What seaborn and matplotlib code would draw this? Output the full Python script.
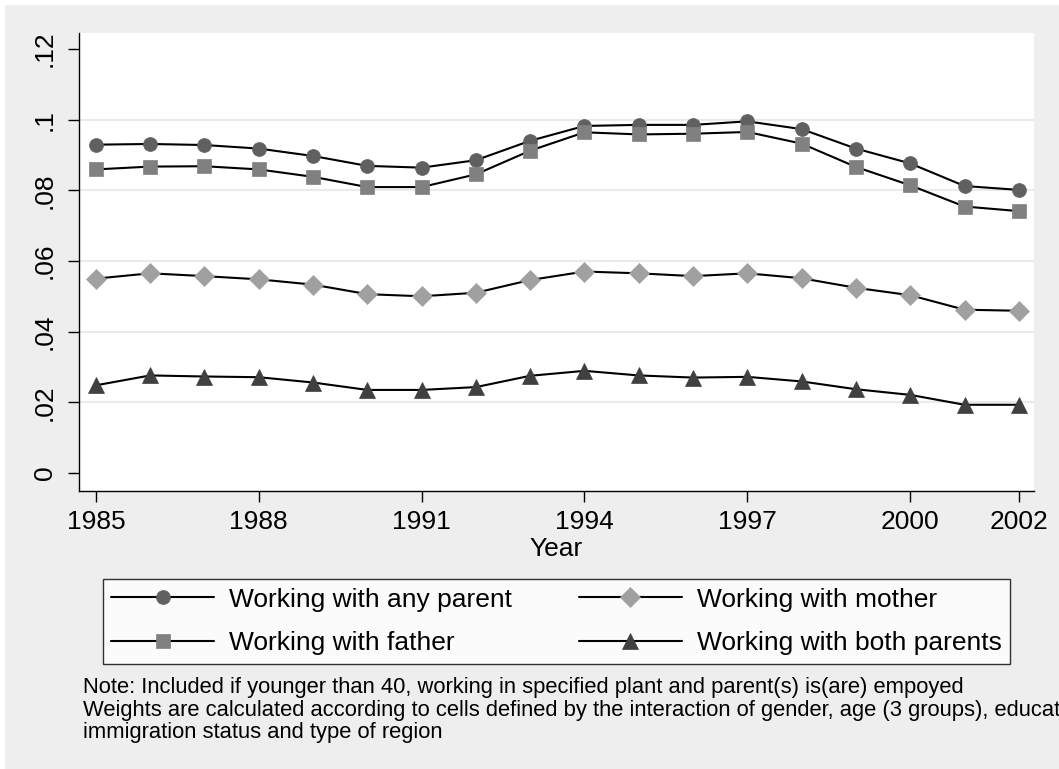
import numpy as np
import pandas as pd
import matplotlib
matplotlib.use("Agg")
import matplotlib.pyplot as plt
from matplotlib.patches import Rectangle
import seaborn as sns

years = list(range(1985, 2003))
any_parent = [0.0929, 0.0931, 0.0928, 0.0918, 0.0897, 0.0869, 0.0864, 0.0885, 0.0940,
              0.0982, 0.0985, 0.0985, 0.0995, 0.0973, 0.0918, 0.0876, 0.0812, 0.0801]
father = [0.0859, 0.0867, 0.0868, 0.0859, 0.0838, 0.0809, 0.0809, 0.0845, 0.0912,
          0.0964, 0.0958, 0.0960, 0.0965, 0.0932, 0.0866, 0.0814, 0.0754, 0.0741]
mother = [0.0550, 0.0565, 0.0557, 0.0548, 0.0533, 0.0506, 0.0500, 0.0510, 0.0546,
          0.0570, 0.0565, 0.0557, 0.0565, 0.0551, 0.0524, 0.0503, 0.0462, 0.0459]
both = [0.0248, 0.0276, 0.0273, 0.0271, 0.0256, 0.0235, 0.0235, 0.0243, 0.0275,
        0.0289, 0.0276, 0.0270, 0.0272, 0.0259, 0.0237, 0.0221, 0.0193, 0.0193]

series_labels = ["Working with any parent", "Working with father",
                 "Working with mother", "Working with both parents"]
x_ticks = [1985, 1988, 1991, 1994, 1997, 2000, 2002]
y_ticks = [0, 0.02, 0.04, 0.06, 0.08, 0.10, 0.12]
y_ticklabels = ["0", ".02", ".04", ".06", ".08", ".1", ".12"]
note_lines = [
    "Note: Included if younger than 40, working in specified plant and parent(s) is(are) empoyed",
    "Weights are calculated according to cells defined by the interaction of gender, age (3 groups), education,",
    "immigration status and type of region",
]

df = pd.DataFrame({"Year": years, series_labels[0]: any_parent, series_labels[1]: father,
                   series_labels[2]: mother, series_labels[3]: both})

sns.set_theme(style="white")
plt.rcParams["font.family"] = ["Liberation Sans", "DejaVu Sans"]

W, H = 1059, 769
bg = "#EEEEEE"
fig = plt.figure(figsize=(W / 100, H / 100), dpi=100)
fig.patch.set_facecolor(bg)
# thin white strip at top and left, as in the original export
fig.patches.append(Rectangle((0, 1 - 5 / H), 1, 5 / H, transform=fig.transFigure,
                             facecolor="white", edgecolor="none", zorder=-10))
fig.patches.append(Rectangle((0, 0), 5 / W, 1, transform=fig.transFigure,
                             facecolor="white", edgecolor="none", zorder=-10))

ax = fig.add_axes([79 / W, 1 - 491 / H, (1034 - 79) / W, (491 - 33) / H])
ax.set_facecolor("white")

styles = {
    series_labels[0]: dict(marker="o", markersize=10, color="#606060"),
    series_labels[1]: dict(marker="s", markersize=10, color="#808080"),
    series_labels[2]: dict(marker="D", markersize=10, color="#A0A0A0"),
    series_labels[3]: dict(marker="^", markersize=11.5, color="#404040"),
}
for lab in series_labels:
    st = styles[lab]
    sns.lineplot(data=df, x="Year", y=lab, ax=ax, color="black", linewidth=1.5,
                 marker=st["marker"], markersize=st["markersize"],
                 markerfacecolor=st["color"], markeredgecolor=st["color"],
                 markeredgewidth=0.5, label=lab)

ax.set_xlim(1984.69, 2002.28)
ax.set_ylim(-0.0051, 0.1245)
ax.set_xticks(x_ticks)
ax.set_xticklabels([str(t) for t in x_ticks])
ax.set_yticks(y_ticks)
ax.set_yticklabels(y_ticklabels)
for t in ax.get_yticklabels():
    t.set_rotation(90)
    t.set_va("center")
ax.tick_params(axis="both", direction="out", length=8, width=1, color="black",
               labelsize=19, labelcolor="black", left=True, bottom=True)
ax.tick_params(axis="y", pad=8)
ax.tick_params(axis="x", pad=6)

for yv in y_ticks[1:-1]:
    ax.axhline(yv, color="#EAEAEA", linewidth=1.5, zorder=0)

for s in ["top", "right"]:
    ax.spines[s].set_visible(False)
for s in ["left", "bottom"]:
    ax.spines[s].set_color("black")
    ax.spines[s].set_linewidth(1)

ax.set_xlabel("Year", fontsize=19, labelpad=2, color="black")
ax.set_ylabel("")

handles, labels = ax.get_legend_handles_labels()
ax.get_legend().remove()
leg = fig.legend(handles, labels,
                 loc="center", ncol=2, mode="expand",
                 bbox_to_anchor=(103 / W, 1 - 664 / H, (1010 - 103) / W, 85 / H),
                 fontsize=19, frameon=True, fancybox=False, shadow=False,
                 handlelength=3.9, handletextpad=0.57, borderpad=0.32,
                 labelspacing=0.75, columnspacing=1.5, borderaxespad=0)
leg.get_frame().set_edgecolor("black")
leg.get_frame().set_linewidth(1)
leg.get_frame().set_facecolor("white")
for t in leg.get_texts():
    t.set_color("black")

fig.text(83 / W, 1 - 677 / H, "\n".join(note_lines), fontsize=15.8, va="top", ha="left",
         color="black", linespacing=1.1)

fig.savefig("out.png", dpi=100, facecolor=fig.get_facecolor())
